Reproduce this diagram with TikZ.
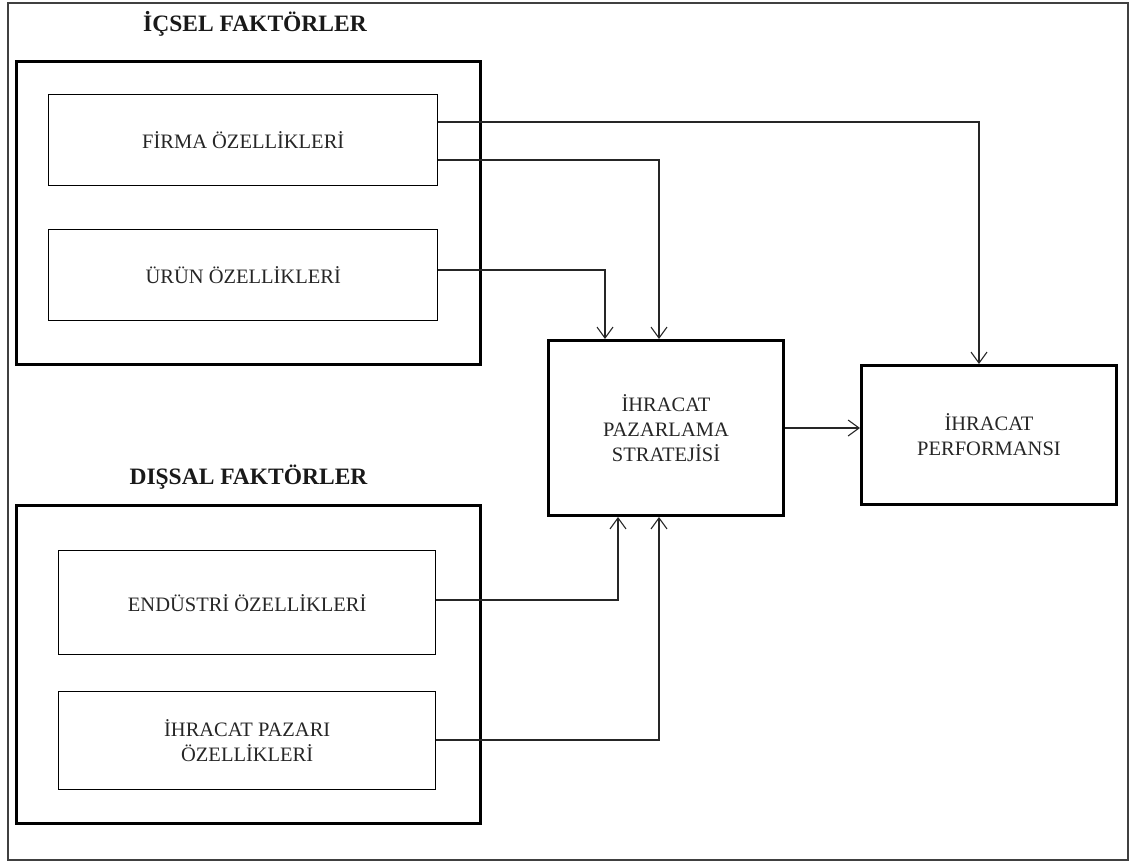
\documentclass[tikz,border=0pt]{standalone}
\usepackage{fontspec}
\setmainfont{Liberation Serif}
\usetikzlibrary{arrows.meta}
\begin{document}
\begin{tikzpicture}[x=1pt,y=-1pt,
  thickbox/.style={draw=black,line width=3pt},
  thinbox/.style={draw=black,line width=1.4pt},
  txt/.style={font=\fontsize{20.5}{25}\selectfont,align=center,text=black!85},
  ttl/.style={font=\fontsize{23.5}{27}\selectfont\bfseries,text=black!90},
  conn/.style={draw=black!85,line width=1.1pt,-{Straight Barb[length=11pt,width=16pt,line width=1.1pt]}}]
\useasboundingbox (0,0) rectangle (1130,863);
% outer frame
\draw[line width=1.5pt,draw=black!75] (8,3) rectangle (1128,860);
% group boxes
\node[thickbox,minimum width=464pt,minimum height=303pt,anchor=north west,inner sep=0] (icsel) at (15,60) {};
\node[thickbox,minimum width=464pt,minimum height=318pt,anchor=north west,inner sep=0] (dissal) at (15,504) {};
\node[ttl] (icselt) at (255,24) {İÇSEL FAKTÖRLER};
\node[ttl] (dissalt) at (248.5,477) {DIŞSAL FAKTÖRLER};
% inner boxes
\node[thinbox,minimum width=389pt,minimum height=91pt,anchor=north west,inner sep=0] (firma) at (48,94) {};
\node[txt] at (firma.center) {FİRMA ÖZELLİKLERİ};
\node[thinbox,minimum width=389pt,minimum height=91pt,anchor=north west,inner sep=0] (urun) at (48,229) {};
\node[txt] at (urun.center) {ÜRÜN ÖZELLİKLERİ};
\node[thinbox,minimum width=377pt,minimum height=104pt,anchor=north west,inner sep=0] (endustri) at (58,550) {};
\node[txt] at (endustri.center) {ENDÜSTRİ ÖZELLİKLERİ};
\node[thinbox,minimum width=377pt,minimum height=98pt,anchor=north west,inner sep=0] (pazar) at (58,691) {};
\node[txt] at (pazar.center) {İHRACAT PAZARI\\ÖZELLİKLERİ};
% main boxes
\node[thickbox,minimum width=235pt,minimum height=175pt,anchor=north west,inner sep=0] (strateji) at (547,339) {};
\node[txt] at (strateji.center) {İHRACAT\\PAZARLAMA\\STRATEJİSİ};
\node[thickbox,minimum width=255pt,minimum height=139pt,anchor=north west,inner sep=0] (perf) at (860,364) {};
\node[txt] at (perf.center) {İHRACAT\\PERFORMANSI};
% connectors
\draw[conn] (firma.east |- 0,122) -| (perf.north -| 979,0);
\draw[conn] (firma.east |- 0,160) -| (strateji.north -| 659,0);
\draw[conn] (urun.east |- 0,270) -| (strateji.north -| 605,0);
\draw[conn] (endustri.east |- 0,600) -| (strateji.south -| 618,0);
\draw[conn] (pazar.east |- 0,740) -| (strateji.south -| 659,0);
\draw[conn] (strateji.east |- 0,428) -- (perf.west |- 0,428);
\end{tikzpicture}
\end{document}
